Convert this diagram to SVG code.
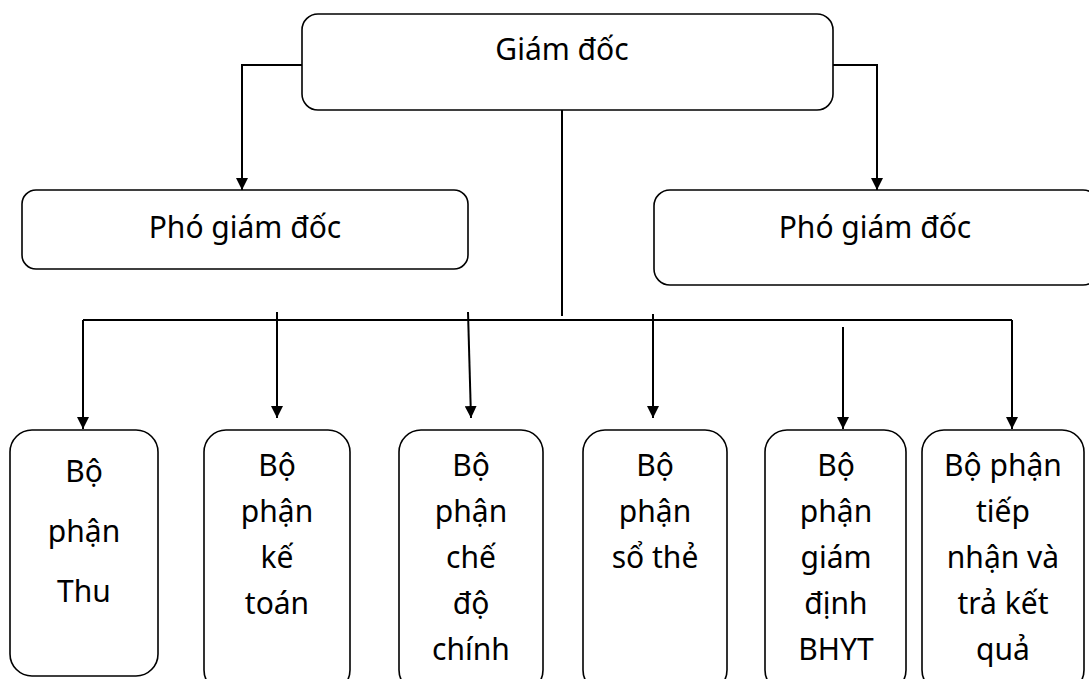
<svg xmlns="http://www.w3.org/2000/svg" width="1089" height="679" viewBox="0 0 1089 679">
<style>
.box{fill:#fff;stroke:#000;stroke-width:1.6}
.lbl{font-family:"Noto Sans","Open Sans",sans-serif;font-size:30px;fill:#000;text-anchor:middle}
.con{fill:none;stroke:#000;stroke-width:2}
</style>
<defs>
<marker id="ah" viewBox="0 0 12 12" refX="12" refY="6" markerWidth="12" markerHeight="12" markerUnits="userSpaceOnUse" orient="auto">
<path d="M0,0 L12,6 L0,12 Z" fill="#000"/>
</marker>
</defs>
<rect width="1089" height="679" fill="#fff"/>
<g id="connectors">
<path class="con" d="M302,65 H242 V190" marker-end="url(#ah)"/>
<path class="con" d="M833,65 H877 V190" marker-end="url(#ah)"/>
<path class="con" d="M562,110 V316"/>
<path class="con" d="M83,320 H1012"/>
<path class="con" d="M83,320 V429" marker-end="url(#ah)"/>
<path class="con" d="M277,312 V418" marker-end="url(#ah)"/>
<path class="con" d="M468,312 L471,418" marker-end="url(#ah)"/>
<path class="con" d="M653,314 V418" marker-end="url(#ah)"/>
<path class="con" d="M843,327 V429" marker-end="url(#ah)"/>
<path class="con" d="M1012,320 V429" marker-end="url(#ah)"/>
</g>
<g id="giam-doc">
<rect class="box" x="302" y="14" width="531" height="96" rx="16"/>
<text class="lbl" x="562" y="60">Giám đốc</text>
</g>
<g id="pho-giam-doc-1">
<rect class="box" x="22" y="190" width="446" height="79" rx="14"/>
<text class="lbl" x="245" y="238">Phó giám đốc</text>
</g>
<g id="pho-giam-doc-2">
<rect class="box" x="654" y="190" width="445" height="95" rx="16"/>
<text class="lbl" x="875" y="238">Phó giám đốc</text>
</g>
<g id="bp-thu">
<rect class="box" x="10" y="430" width="148" height="246" rx="22"/>
<text class="lbl"><tspan x="84" y="482">Bộ</tspan><tspan x="84" y="542">phận</tspan><tspan x="84" y="602">Thu</tspan></text>
</g>
<g id="bp-ke-toan">
<rect class="box" x="204" y="430" width="146" height="262" rx="22"/>
<text class="lbl"><tspan x="277" y="476">Bộ</tspan><tspan x="277" y="522">phận</tspan><tspan x="277" y="568">kế</tspan><tspan x="277" y="614">toán</tspan></text>
</g>
<g id="bp-che-do">
<rect class="box" x="399" y="430" width="144" height="262" rx="22"/>
<text class="lbl"><tspan x="471" y="476">Bộ</tspan><tspan x="471" y="522">phận</tspan><tspan x="471" y="568">chế</tspan><tspan x="471" y="614">độ</tspan><tspan x="471" y="660">chính</tspan></text>
</g>
<g id="bp-so-the">
<rect class="box" x="583" y="430" width="144" height="262" rx="22"/>
<text class="lbl"><tspan x="655" y="476">Bộ</tspan><tspan x="655" y="522">phận</tspan><tspan x="655" y="568">sổ thẻ</tspan></text>
</g>
<g id="bp-giam-dinh">
<rect class="box" x="765" y="430" width="141" height="262" rx="22"/>
<text class="lbl"><tspan x="836" y="476">Bộ</tspan><tspan x="836" y="522">phận</tspan><tspan x="836" y="568">giám</tspan><tspan x="836" y="614">định</tspan><tspan x="836" y="660">BHYT</tspan></text>
</g>
<g id="bp-tiep-nhan">
<rect class="box" x="922" y="430" width="162" height="262" rx="22"/>
<text class="lbl"><tspan x="1003" y="476">Bộ phận</tspan><tspan x="1003" y="522">tiếp</tspan><tspan x="1003" y="568">nhận và</tspan><tspan x="1003" y="614">trả kết</tspan><tspan x="1003" y="660">quả</tspan></text>
</g>
</svg>
